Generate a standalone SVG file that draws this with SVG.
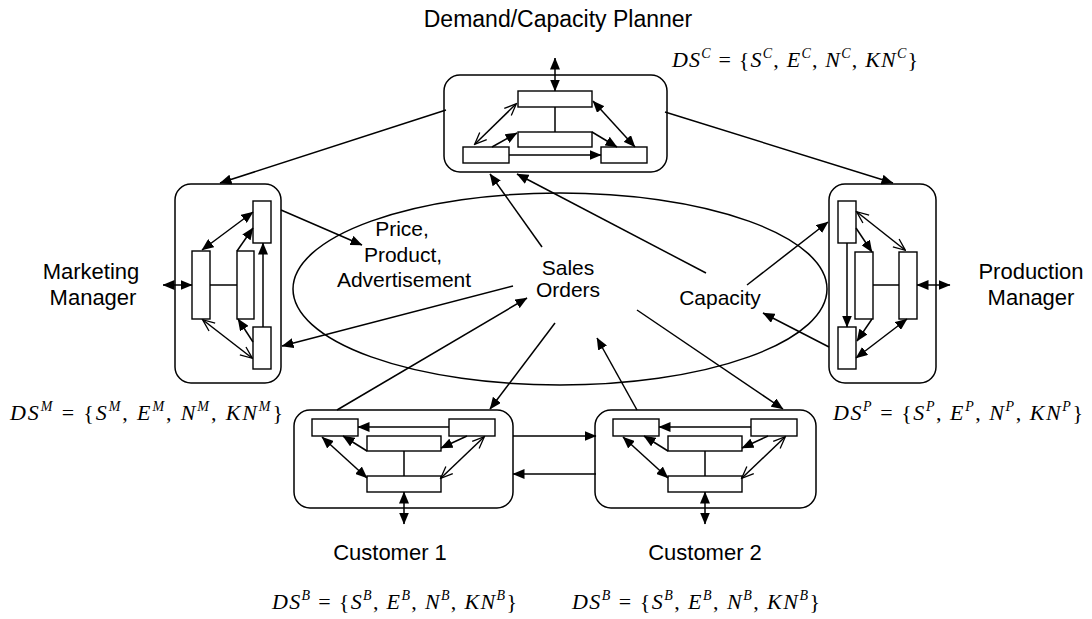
<svg xmlns="http://www.w3.org/2000/svg" width="1092" height="619" viewBox="0 0 1092 619">
<style>
.box{fill:#fff;stroke:#000;stroke-width:1.5}
.r{fill:#fff;stroke:#000;stroke-width:1.4}
.ln{stroke:#000;stroke-width:1.5;fill:none}
.a{marker-end:url(#fa)}
.aa{marker-start:url(#fa);marker-end:url(#fa)}
.oo{marker-start:url(#oa);marker-end:url(#oa)}
.lbl{font-family:"Liberation Sans",Arial,sans-serif;font-size:22px;fill:#000}
.sm{font-family:"Liberation Sans",Arial,sans-serif;font-size:21px;fill:#000}
.f{font-family:"Liberation Serif","Times New Roman",serif;font-size:22px;fill:#000}
.i{font-style:italic}
.s{font-style:italic;font-size:14px}
</style>
<defs>
<marker id="fa" viewBox="0 0 12 10" refX="11.5" refY="5" markerWidth="12" markerHeight="10" markerUnits="userSpaceOnUse" orient="auto-start-reverse"><path d="M0,0 L12,5 L0,10 z" fill="#000"/></marker>
<marker id="oa" viewBox="0 0 14 12" refX="12.5" refY="6" markerWidth="14" markerHeight="12" markerUnits="userSpaceOnUse" orient="auto-start-reverse"><path d="M1,1 L13,6 L1,11" fill="none" stroke="#000" stroke-width="1.3"/></marker>
</defs>
<rect width="1092" height="619" fill="#fff"/>
<ellipse cx="560" cy="289" rx="267" ry="96" class="ln"/>

<g id="planner">
<rect class="box" x="444" y="75" width="223" height="97" rx="16"/>
<rect class="r" x="518" y="91" width="74" height="16"/>
<rect class="r" x="518" y="132" width="74" height="15"/>
<rect class="r" x="463" y="147" width="46" height="16"/>
<rect class="r" x="601" y="147" width="46" height="16"/>
<line class="ln" x1="555" y1="107" x2="555" y2="132"/>
<line class="ln aa" x1="555" y1="58" x2="555" y2="91"/>
<line class="ln a" x1="509" y1="155" x2="601" y2="155"/>
<line class="ln oo" x1="475" y1="144" x2="516" y2="104"/>
<line class="ln a" x1="492" y1="147" x2="517" y2="133"/>
<line class="ln a" x1="592" y1="132" x2="617" y2="147"/>
<line class="ln aa" x1="593" y1="101" x2="635" y2="147"/>
</g>

<g id="marketing">
<rect class="box" x="175" y="184" width="106" height="199" rx="16"/>
<rect class="r" x="253" y="201" width="18" height="42"/>
<rect class="r" x="192" y="251" width="18" height="68"/>
<rect class="r" x="237" y="251" width="17" height="68"/>
<rect class="r" x="253" y="327" width="18" height="42"/>
<line class="ln" x1="210" y1="285" x2="237" y2="285"/>
<line class="ln aa" x1="163" y1="285" x2="192" y2="285"/>
<line class="ln aa" x1="202" y1="250" x2="253" y2="212"/>
<line class="ln a" x1="237" y1="251" x2="253" y2="228"/>
<line class="ln a" x1="263" y1="327" x2="263" y2="243"/>
<line class="ln oo" x1="203" y1="320" x2="252" y2="358"/>
<line class="ln a" x1="253" y1="342" x2="238" y2="319"/>
</g>

<g id="production">
<rect class="box" x="829" y="184" width="107" height="199" rx="16"/>
<rect class="r" x="838" y="201" width="18" height="42"/>
<rect class="r" x="855" y="252" width="18" height="67"/>
<rect class="r" x="899" y="252" width="18" height="67"/>
<rect class="r" x="838" y="327" width="18" height="42"/>
<line class="ln" x1="873" y1="285" x2="899" y2="285"/>
<line class="ln aa" x1="917" y1="285" x2="950" y2="285"/>
<line class="ln a" x1="847" y1="243" x2="847" y2="327"/>
<line class="ln a" x1="856" y1="228" x2="872" y2="252"/>
<line class="ln oo" x1="857" y1="212" x2="905" y2="250"/>
<line class="ln a" x1="872" y1="319" x2="857" y2="341"/>
<line class="ln aa" x1="907" y1="319" x2="856" y2="358"/>
</g>

<g id="customer1">
<rect class="box" x="294" y="410" width="219" height="98" rx="16"/>
<rect class="r" x="312" y="419" width="46" height="17"/>
<rect class="r" x="449" y="419" width="46" height="17"/>
<rect class="r" x="367" y="436" width="74" height="15"/>
<rect class="r" x="367" y="476" width="74" height="16"/>
<line class="ln" x1="404" y1="451" x2="404" y2="476"/>
<line class="ln a" x1="449" y1="427" x2="358" y2="427"/>
<line class="ln a" x1="367" y1="451" x2="343" y2="436"/>
<line class="ln a" x1="467" y1="436" x2="441" y2="448"/>
<line class="ln aa" x1="322" y1="437" x2="367" y2="478"/>
<line class="ln oo" x1="441" y1="478" x2="484" y2="437"/>
<line class="ln aa" x1="404" y1="492" x2="404" y2="524"/>
</g>

<g id="customer2">
<rect class="box" x="595" y="410" width="221" height="98" rx="16"/>
<rect class="r" x="613" y="419" width="46" height="17"/>
<rect class="r" x="751" y="419" width="46" height="17"/>
<rect class="r" x="668" y="436" width="74" height="15"/>
<rect class="r" x="668" y="476" width="74" height="16"/>
<line class="ln" x1="705" y1="451" x2="705" y2="476"/>
<line class="ln a" x1="751" y1="427" x2="659" y2="427"/>
<line class="ln a" x1="668" y1="451" x2="644" y2="436"/>
<line class="ln a" x1="768" y1="436" x2="742" y2="448"/>
<line class="ln aa" x1="623" y1="437" x2="668" y2="478"/>
<line class="ln oo" x1="742" y1="478" x2="785" y2="437"/>
<line class="ln aa" x1="705" y1="492" x2="705" y2="524"/>
</g>

<g id="connectors">
<line class="ln a" x1="446" y1="110" x2="220" y2="183"/>
<line class="ln a" x1="665" y1="112" x2="893" y2="183"/>
<line class="ln a" x1="281" y1="210" x2="362" y2="245"/>
<line class="ln a" x1="513" y1="286" x2="282" y2="346"/>
<line class="ln a" x1="337" y1="410" x2="527" y2="298"/>
<line class="ln a" x1="555" y1="323" x2="490" y2="409"/>
<line class="ln a" x1="637" y1="410" x2="597" y2="338"/>
<line class="ln a" x1="637" y1="310" x2="783" y2="409"/>
<line class="ln a" x1="542" y1="247" x2="490" y2="174"/>
<line class="ln a" x1="706" y1="273" x2="517" y2="174"/>
<line class="ln a" x1="747" y1="285" x2="828" y2="222"/>
<line class="ln a" x1="829" y1="347" x2="763" y2="313"/>
<line class="ln a" x1="513" y1="436" x2="596" y2="436"/>
<line class="ln a" x1="596" y1="474" x2="513" y2="474"/>
</g>

<g id="labels">
<text class="lbl" x="558" y="27" text-anchor="middle" style="font-size:23px">Demand/Capacity Planner</text>
<text class="lbl" x="91" y="279" text-anchor="middle">Marketing</text>
<text class="lbl" x="93" y="305" text-anchor="middle">Manager</text>
<text class="lbl" x="1031" y="279" text-anchor="middle">Production</text>
<text class="lbl" x="1031" y="305" text-anchor="middle">Manager</text>
<text class="lbl" x="390" y="560" text-anchor="middle">Customer 1</text>
<text class="lbl" x="705" y="560" text-anchor="middle">Customer 2</text>
<text class="sm" x="402" y="236" text-anchor="middle">Price,</text>
<text class="sm" x="403" y="262" text-anchor="middle">Product,</text>
<text class="sm" x="404" y="287" text-anchor="middle">Advertisement</text>
<text class="sm" x="568" y="275" text-anchor="middle">Sales</text>
<text class="sm" x="568" y="297" text-anchor="middle">Orders</text>
<text class="sm" x="720" y="305" text-anchor="middle">Capacity</text>
</g>

<g id="formulas">
<text class="f" x="672" y="67" textLength="246" lengthAdjust="spacing"><tspan class="i">DS</tspan><tspan class="s" dy="-9">C</tspan><tspan dy="9"> = {</tspan><tspan class="i">S</tspan><tspan class="s" dy="-9">C</tspan><tspan dy="9">, </tspan><tspan class="i">E</tspan><tspan class="s" dy="-9">C</tspan><tspan dy="9">, </tspan><tspan class="i">N</tspan><tspan class="s" dy="-9">C</tspan><tspan dy="9">, </tspan><tspan class="i">KN</tspan><tspan class="s" dy="-9">C</tspan><tspan dy="9">}</tspan></text>
<text class="f" x="10" y="420" textLength="273" lengthAdjust="spacing"><tspan class="i">DS</tspan><tspan class="s" dy="-9">M</tspan><tspan dy="9"> = {</tspan><tspan class="i">S</tspan><tspan class="s" dy="-9">M</tspan><tspan dy="9">, </tspan><tspan class="i">E</tspan><tspan class="s" dy="-9">M</tspan><tspan dy="9">, </tspan><tspan class="i">N</tspan><tspan class="s" dy="-9">M</tspan><tspan dy="9">, </tspan><tspan class="i">KN</tspan><tspan class="s" dy="-9">M</tspan><tspan dy="9">}</tspan></text>
<text class="f" x="833" y="420" textLength="250" lengthAdjust="spacing"><tspan class="i">DS</tspan><tspan class="s" dy="-9">P</tspan><tspan dy="9"> = {</tspan><tspan class="i">S</tspan><tspan class="s" dy="-9">P</tspan><tspan dy="9">, </tspan><tspan class="i">E</tspan><tspan class="s" dy="-9">P</tspan><tspan dy="9">, </tspan><tspan class="i">N</tspan><tspan class="s" dy="-9">P</tspan><tspan dy="9">, </tspan><tspan class="i">KN</tspan><tspan class="s" dy="-9">P</tspan><tspan dy="9">}</tspan></text>
<text class="f" x="272" y="609" textLength="245" lengthAdjust="spacing"><tspan class="i">DS</tspan><tspan class="s" dy="-9">B</tspan><tspan dy="9"> = {</tspan><tspan class="i">S</tspan><tspan class="s" dy="-9">B</tspan><tspan dy="9">, </tspan><tspan class="i">E</tspan><tspan class="s" dy="-9">B</tspan><tspan dy="9">, </tspan><tspan class="i">N</tspan><tspan class="s" dy="-9">B</tspan><tspan dy="9">, </tspan><tspan class="i">KN</tspan><tspan class="s" dy="-9">B</tspan><tspan dy="9">}</tspan></text>
<text class="f" x="572" y="609" textLength="248" lengthAdjust="spacing"><tspan class="i">DS</tspan><tspan class="s" dy="-9">B</tspan><tspan dy="9"> = {</tspan><tspan class="i">S</tspan><tspan class="s" dy="-9">B</tspan><tspan dy="9">, </tspan><tspan class="i">E</tspan><tspan class="s" dy="-9">B</tspan><tspan dy="9">, </tspan><tspan class="i">N</tspan><tspan class="s" dy="-9">B</tspan><tspan dy="9">, </tspan><tspan class="i">KN</tspan><tspan class="s" dy="-9">B</tspan><tspan dy="9">}</tspan></text>
</g>
</svg>
